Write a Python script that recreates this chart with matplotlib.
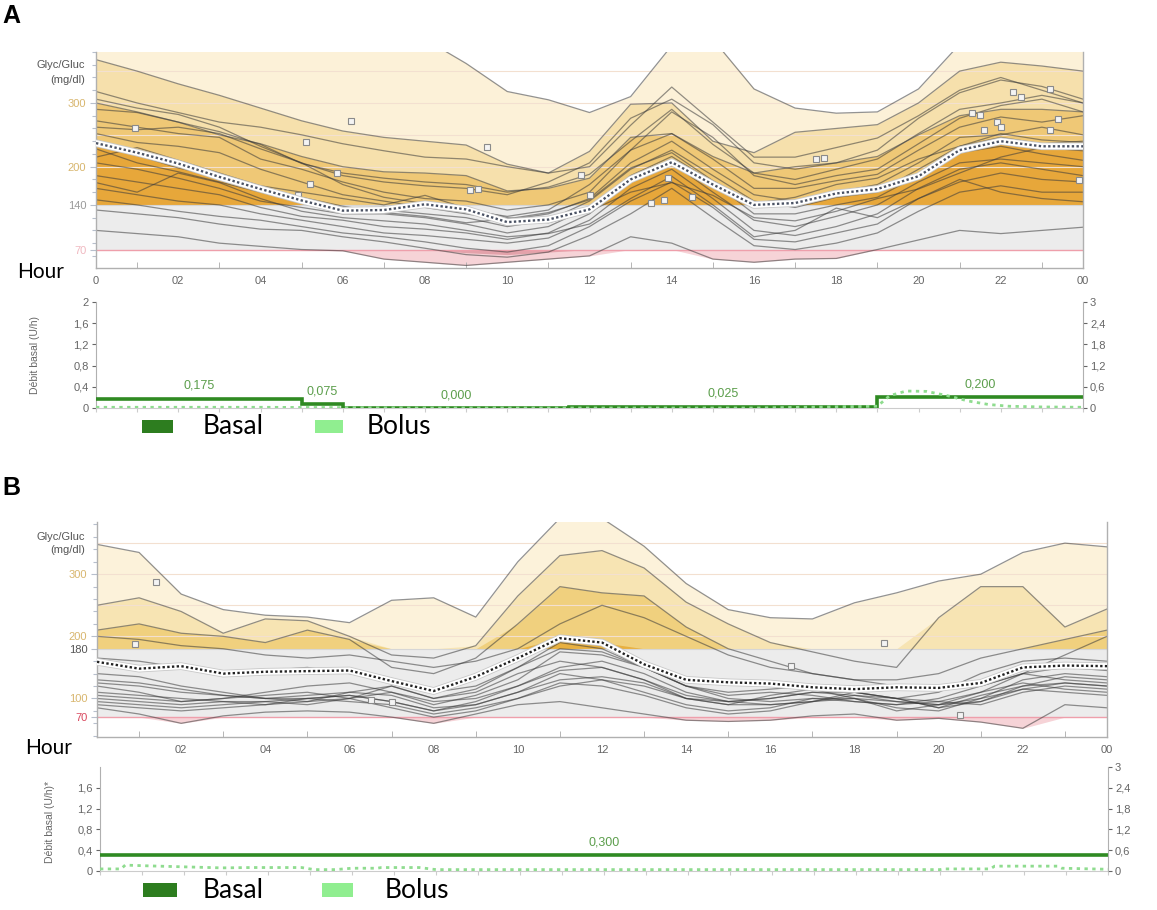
import matplotlib
matplotlib.use("Agg")
import matplotlib.pyplot as plt
import numpy as np
from matplotlib.patches import Rectangle
from matplotlib.ticker import FixedLocator, MultipleLocator, FuncFormatter

W, H = 1157, 910
HOURS = list(range(25))

# ---------------- panel A : glucose (mg/dl), hourly ----------------
a_max = [400, 395, 390, 392, 398, 400, 400, 400, 400, 362, 318, 305, 285, 310, 390, 400, 322, 292, 284, 286, 322, 392, 400, 400, 400]
a_p90 = [368, 350, 330, 312, 292, 272, 256, 246, 240, 234, 204, 190, 224, 298, 300, 240, 222, 254, 260, 266, 300, 350, 364, 358, 350]
a_p75 = [300, 286, 270, 250, 236, 216, 200, 192, 190, 186, 162, 166, 182, 246, 252, 216, 190, 200, 206, 216, 250, 280, 290, 290, 286]
a_median = [237, 222, 205, 184, 165, 147, 131, 132, 141, 133, 113, 117, 133, 180, 207, 172, 140, 143, 158, 165, 185, 226, 240, 232, 232]
a_p10 = [125, 115, 110, 100, 95, 90, 85, 80, 75, 65, 62, 66, 80, 105, 100, 85, 75, 75, 80, 90, 110, 130, 135, 135, 135]
a_min = [100, 95, 90, 80, 75, 70, 68, 55, 50, 45, 50, 55, 60, 90, 80, 55, 50, 55, 56, 70, 85, 100, 95, 100, 105]
a_traces = [
    [318, 300, 285, 270, 262, 250, 236, 225, 215, 212, 200, 190, 200, 265, 325, 270, 215, 215, 230, 245, 280, 320, 340, 320, 300],
    [290, 285, 270, 255, 235, 205, 190, 182, 176, 172, 160, 168, 188, 240, 290, 235, 190, 180, 196, 212, 252, 290, 300, 312, 300],
    [272, 262, 252, 246, 212, 196, 176, 160, 150, 146, 132, 140, 160, 226, 252, 212, 166, 166, 178, 188, 226, 262, 278, 270, 280],
    [252, 238, 232, 222, 196, 176, 156, 146, 136, 126, 116, 126, 150, 206, 240, 196, 156, 146, 160, 172, 206, 246, 250, 262, 250],
    [228, 206, 192, 176, 160, 146, 136, 132, 126, 120, 106, 116, 146, 196, 226, 186, 146, 136, 152, 160, 196, 232, 246, 236, 240],
    [206, 196, 182, 166, 146, 136, 126, 126, 120, 110, 96, 106, 136, 186, 216, 176, 126, 126, 140, 152, 186, 222, 232, 220, 210],
    [186, 176, 166, 156, 136, 122, 116, 106, 102, 96, 86, 96, 126, 176, 206, 160, 116, 106, 122, 140, 176, 206, 212, 206, 200],
    [166, 156, 146, 140, 126, 116, 106, 96, 92, 86, 80, 88, 116, 166, 196, 150, 100, 92, 106, 126, 166, 196, 206, 196, 186],
    [148, 140, 130, 122, 116, 106, 96, 90, 82, 72, 66, 76, 106, 146, 176, 136, 86, 82, 96, 110, 150, 176, 190, 180, 176],
    [132, 126, 120, 110, 102, 100, 90, 82, 72, 62, 58, 66, 92, 126, 166, 120, 76, 70, 80, 96, 130, 160, 170, 160, 160],
    [306, 292, 282, 262, 232, 206, 186, 176, 170, 166, 156, 176, 206, 276, 306, 266, 206, 196, 206, 226, 276, 316, 336, 326, 306],
    [262, 258, 262, 252, 228, 206, 172, 152, 142, 132, 122, 132, 172, 226, 286, 246, 186, 172, 186, 196, 236, 276, 296, 306, 286],
    [242, 218, 198, 184, 168, 152, 138, 128, 122, 112, 118, 128, 148, 198, 222, 178, 142, 152, 172, 182, 212, 232, 252, 242, 238],
    [215, 230, 210, 190, 170, 160, 150, 140, 155, 135, 120, 112, 130, 160, 175, 155, 120, 115, 130, 150, 165, 190, 215, 230, 225],
    [175, 160, 190, 175, 150, 130, 120, 115, 110, 100, 90, 95, 110, 150, 185, 140, 90, 100, 135, 120, 150, 180, 160, 150, 145],
]
a_mark_h = [0.95, 5.1, 6.2, 5.85, 5.2, 4.9, 9.5, 9.1, 9.3, 11.8, 12.0, 13.9, 13.5, 13.8, 14.5, 17.5, 17.7,
            21.3, 21.5, 21.9, 22.0, 21.6, 22.3, 22.5, 23.2, 23.4, 23.2, 23.9]
a_mark_v = [261, 239, 272, 190, 173, 155, 231, 163, 165, 187, 156, 182, 143, 148, 152, 212, 214,
            284, 281, 270, 262, 258, 317, 310, 322, 275, 258, 179]

# ---------------- panel B : glucose (mg/dl), hourly ----------------
b_max = [348, 335, 268, 243, 234, 231, 222, 258, 262, 231, 320, 390, 390, 345, 285, 243, 230, 228, 254, 270, 289, 300, 335, 350, 344]
b_p90 = [250, 262, 240, 205, 228, 225, 200, 170, 165, 185, 265, 330, 338, 310, 255, 220, 190, 175, 160, 150, 230, 280, 280, 215, 244]
b_p75 = [210, 220, 205, 200, 190, 210, 195, 150, 140, 165, 220, 280, 270, 265, 215, 180, 160, 140, 130, 130, 140, 165, 180, 195, 210]
b_median = [159, 148, 152, 140, 143, 144, 145, 128, 112, 135, 165, 197, 190, 155, 130, 126, 124, 118, 115, 118, 117, 125, 150, 153, 152]
b_min = [85, 75, 60, 72, 78, 80, 78, 70, 60, 75, 90, 95, 85, 75, 65, 63, 65, 72, 75, 65, 68, 62, 52, 90, 85]
b_traces = [
    [125, 120, 110, 105, 100, 100, 105, 95, 80, 95, 120, 150, 160, 140, 110, 95, 100, 110, 105, 95, 90, 110, 140, 150, 145],
    [110, 105, 100, 95, 95, 90, 100, 110, 90, 105, 130, 175, 170, 150, 120, 100, 95, 100, 100, 85, 80, 100, 130, 140, 135],
    [100, 95, 90, 95, 90, 95, 110, 120, 100, 110, 140, 160, 150, 130, 100, 90, 105, 115, 100, 80, 90, 95, 120, 135, 130],
    [130, 125, 115, 105, 100, 105, 110, 105, 85, 90, 110, 140, 130, 120, 100, 95, 90, 95, 110, 100, 85, 105, 120, 125, 120],
    [95, 90, 85, 90, 95, 100, 95, 90, 75, 85, 100, 120, 130, 110, 90, 80, 85, 100, 95, 90, 95, 110, 125, 115, 110],
    [140, 135, 120, 110, 100, 95, 100, 120, 100, 115, 150, 180, 175, 150, 120, 105, 110, 105, 95, 90, 100, 120, 140, 130, 125],
    [90, 85, 80, 85, 90, 100, 105, 95, 80, 90, 110, 130, 135, 125, 100, 90, 90, 95, 100, 95, 90, 100, 115, 110, 105],
    [120, 110, 95, 100, 105, 110, 100, 85, 70, 80, 100, 125, 120, 105, 85, 75, 80, 95, 105, 100, 95, 90, 110, 120, 115],
    [165, 160, 150, 140, 145, 150, 140, 130, 110, 120, 150, 190, 180, 150, 120, 110, 115, 120, 110, 100, 110, 140, 160, 165, 160],
    [105, 100, 95, 100, 110, 120, 125, 110, 95, 100, 120, 145, 150, 130, 105, 95, 100, 110, 110, 100, 85, 95, 115, 125, 120],
    [200, 195, 185, 180, 170, 165, 170, 160, 150, 160, 180, 220, 250, 230, 200, 170, 150, 140, 130, 120, 115, 120, 140, 170, 200],
]
b_mark_h = [1.4, 0.9, 6.5, 7.0, 16.5, 18.7, 20.5]
b_mark_v = [288, 187, 98, 94, 152, 190, 73]

# ---------------- basal / bolus (U/h) ----------------
a_basal_start = [0, 5, 6, 11.5, 19]
a_basal_rate = [0.175, 0.075, 0.0, 0.025, 0.200]
a_bolus_h = [0, 4, 8, 12, 16, 19.0, 19.3, 19.7, 20.2, 20.7, 21.2, 21.7, 22.2, 23, 24]
a_bolus_v = [0.02, 0.02, 0.0, 0.0, 0.0, 0.05, 0.35, 0.48, 0.47, 0.35, 0.2, 0.1, 0.05, 0.03, 0.02]

b_basal_start = [0]
b_basal_rate = [0.300]
b_bolus_h = [0, 0.5, 0.6, 1.1, 2.9, 3.6, 4.8, 5.1, 5.6, 6.0, 6.6, 6.7, 7.6, 8.0, 20.0, 20.1, 21.2, 21.3, 22.8, 22.9, 24]
b_bolus_v = [0.06, 0.06, 0.17, 0.15, 0.09, 0.1, 0.1, 0.04, 0.04, 0.08, 0.08, 0.1, 0.1, 0.04, 0.04, 0.06, 0.06, 0.14, 0.14, 0.08, 0.05]

TICK_FONT = "Liberation Sans"
BIG_FONT = "Lato"
GREEN = "#2f8a22"
LABEL_GREEN = "#5c9e4c"


def fig_axes(fig, left, right, top, bottom):
    return fig.add_axes([left / W, 1 - bottom / H, (right - left) / W, (bottom - top) / H])


def draw_glucose(ax, env_max, env_p90, env_p75, median, env_min, env_p10, traces,
                 mark_h, mark_v, target, ylim, ytick_vals, ytick_cols, colors, first_label, dot_col):
    h = np.array(HOURS, dtype=float)
    ax.set_xlim(0, 24)
    ax.set_ylim(*ylim)
    ax.axhspan(70, target, color="#ececec", zorder=0, lw=0)
    ax.fill_between(h, target, np.maximum(env_max, target), color=colors[0], lw=0, zorder=0.5)
    ax.fill_between(h, target, np.maximum(env_p90, target), color=colors[1], lw=0, zorder=0.6)
    ax.fill_between(h, target, np.maximum(env_p75, target), color=colors[2], lw=0, zorder=0.7)
    ax.fill_between(h, target, np.maximum(median, target), color=colors[3], lw=0, zorder=0.8)
    ax.fill_between(h, np.minimum(env_min, 70), 70, color="#f6d3d7", lw=0, zorder=0.8)
    if env_p10 is not None:
        ax.fill_between(h, np.minimum(env_p10, 70), 70, color="#e3a2aa", lw=0, zorder=0.9)
    for lvl in (200, 250, 300, 350):
        ax.axhline(lvl, color="#f3e0d0", lw=0.8, zorder=1)
    ax.axhline(target, color="#d6d6d6", lw=0.8, zorder=1)
    ax.axhline(70, color="#ee9fab", lw=1.0, zorder=1)

    for tr in traces:
        ax.plot(h, tr, color="#3a3a3a", lw=0.9, alpha=0.55, zorder=2)
    for env in (env_max, env_p90, env_p75, env_min):
        ax.plot(h, env, color="#3a3a3a", lw=0.9, alpha=0.55, zorder=2)
    ax.plot(mark_h, mark_v, ls="none", marker="s", ms=4, mfc="#f4f4f4", mec="#8a8a8a", mew=0.8, zorder=3)

    ax.plot(h, median, color="#c8c8c8", lw=5.5, solid_capstyle="round", zorder=4)
    ax.plot(h, median, color="white", lw=4.3, solid_capstyle="round", zorder=4.1)
    ax.plot(h, median, color=dot_col, lw=1.7, ls=(0, (1, 1)), zorder=4.2)

    ax.yaxis.set_major_locator(FixedLocator(ytick_vals))
    ax.yaxis.set_minor_locator(MultipleLocator(20))
    ax.set_yticklabels([str(v) for v in ytick_vals], fontsize=8, family=TICK_FONT)
    for lbl, col in zip(ax.get_yticklabels(), ytick_cols):
        lbl.set_color(col)
    ax.tick_params(axis="y", which="both", color="#b7bfcc", length=4, width=0.8, pad=3)
    ax.tick_params(axis="y", which="minor", length=3)

    ax.xaxis.set_major_locator(FixedLocator(range(0, 25, 2)))
    ax.xaxis.set_minor_locator(FixedLocator(range(1, 24, 2)))
    xl = [first_label] + ["%02d" % v for v in range(2, 24, 2)] + ["00"]
    ax.set_xticklabels(xl, fontsize=8, family=TICK_FONT, color="#666666")
    ax.tick_params(axis="x", which="major", length=0, pad=6)
    ax.tick_params(axis="x", which="minor", length=4, direction="in", color="#aaaaaa")

    ax.spines["top"].set_visible(False)
    for side in ("left", "right", "bottom"):
        ax.spines[side].set_color("#b0b0b0")
        ax.spines[side].set_linewidth(1.0)


def draw_basal(ax, starts, rates, bolus_h, bolus_v, left_ticks):
    ax.set_xlim(0, 24)
    ax.set_ylim(0, 2)
    xs = list(starts) + [24]
    ys = list(rates) + [rates[-1]]
    ax.step(xs, ys, where="post", color=GREEN, lw=2.6, zorder=3, solid_joinstyle="miter")
    for i, r in enumerate(rates):
        mid = (xs[i] + xs[i + 1]) / 2
        ax.annotate(("%.3f" % r).replace(".", ","), (mid, r), xytext=(0, 5), textcoords="offset points",
                    ha="center", va="bottom", fontsize=9, color=LABEL_GREEN, family=TICK_FONT)
    comma = FuncFormatter(lambda v, _: ("%g" % round(v, 2)).replace(".", ","))
    ax.yaxis.set_major_locator(FixedLocator(left_ticks))
    ax.yaxis.set_major_formatter(comma)
    ax.tick_params(axis="y", labelsize=8, colors="#666666", length=3, pad=2)
    for lbl in ax.get_yticklabels():
        lbl.set_family(TICK_FONT)
    ax.xaxis.set_major_locator(FixedLocator(range(0, 25)))
    ax.set_xticklabels([])
    ax.tick_params(axis="x", length=3, color="#cccccc")
    ax.spines["top"].set_visible(False)
    ax.spines["right"].set_visible(False)
    ax.spines["left"].set_color("#b0b0b0")
    ax.spines["bottom"].set_color("#cccccc")

    ax2 = ax.twinx()
    ax2.set_ylim(0, 3)
    ax2.plot(bolus_h, bolus_v, color="#8fdc8f", lw=2.0, ls=(0, (1.2, 1.6)), zorder=2)
    ax2.yaxis.set_major_locator(FixedLocator([0, 0.6, 1.2, 1.8, 2.4, 3]))
    ax2.yaxis.set_major_formatter(comma)
    ax2.tick_params(axis="y", labelsize=8, colors="#666666", length=3, pad=2)
    for lbl in ax2.get_yticklabels():
        lbl.set_family(TICK_FONT)
    for side in ("top", "left", "bottom"):
        ax2.spines[side].set_visible(False)
    ax2.spines["right"].set_color("#b0b0b0")


def legend(fig, y_top, y_bot, basal_x, basal_txt, bolus_x, bolus_txt):
    for (x0, x1), col in ((basal_x, "#2d7d1f"), (bolus_x, "#90ee90")):
        fig.patches.append(Rectangle((x0 / W, 1 - y_bot / H), (x1 - x0) / W, (y_bot - y_top) / H,
                                     transform=fig.transFigure, color=col, lw=0))
    yc = 1 - (y_top + y_bot) / 2 / H
    fig.text(basal_txt / W, yc, "Basal", fontsize=19, family=BIG_FONT, va="center", ha="left")
    fig.text(bolus_txt / W, yc, "Bolus", fontsize=19, family=BIG_FONT, va="center", ha="left")


fig = plt.figure(figsize=(W / 100, H / 100), dpi=100)

# ---- A ----
ax_a = fig_axes(fig, 96, 1083, 52, 268)
draw_glucose(ax_a, a_max, a_p90, a_p75, a_median, a_min, a_p10, a_traces, a_mark_h, a_mark_v,
             target=140, ylim=(41, 380), ytick_vals=[70, 140, 200, 300],
             ytick_cols=["#f0b8c0", "#9a9a9a", "#d8b66e", "#d8b66e"],
             colors=["#fcf1d8", "#f6e0ac", "#efc876", "#e7a73a"], first_label="0", dot_col="#4a5264")
ax_ab = fig_axes(fig, 96, 1083, 302, 408)
draw_basal(ax_ab, a_basal_start, a_basal_rate, a_bolus_h, a_bolus_v, [0, 0.4, 0.8, 1.2, 1.6, 2])

# ---- B ----
ax_b = fig_axes(fig, 97, 1107, 522, 737)
draw_glucose(ax_b, b_max, b_p90, b_p75, b_median, b_min, None, b_traces, b_mark_h, b_mark_v,
             target=180, ylim=(38, 384), ytick_vals=[70, 100, 180, 200, 300],
             ytick_cols=["#d9485e", "#d8b66e", "#555555", "#d8b66e", "#d8b66e"],
             colors=["#fcf2da", "#f7e4b3", "#f0d07e", "#e8b040"], first_label="", dot_col="#222222")
ax_bb = fig_axes(fig, 100, 1108, 767, 871)
draw_basal(ax_bb, b_basal_start, b_basal_rate, b_bolus_h, b_bolus_v, [0, 0.4, 0.8, 1.2, 1.6])

# ---- labels ----
fig.text(2 / W, 1 - 16 / H, "A", fontsize=18, fontweight="bold", family=TICK_FONT, va="center")
fig.text(2 / W, 1 - 488 / H, "B", fontsize=18, fontweight="bold", family=TICK_FONT, va="center")
fig.text(17 / W, 1 - 272 / H, "Hour", fontsize=15, family=BIG_FONT, va="center")
fig.text(25 / W, 1 - 748 / H, "Hour", fontsize=15, family=BIG_FONT, va="center")
for yy, txt_y in ((65, 80), (537, 550)):
    fig.text(85 / W, 1 - yy / H, "Glyc/Gluc", fontsize=8, family=TICK_FONT, color="#555555", ha="right", va="center")
    fig.text(85 / W, 1 - txt_y / H, "(mg/dl)", fontsize=8, family=TICK_FONT, color="#555555", ha="right", va="center")
fig.text(35 / W, 1 - 355 / H, "Débit basal (U/h)", fontsize=7.5, family=TICK_FONT, color="#666666",
         rotation=90, ha="center", va="center")
fig.text(50 / W, 1 - 822 / H, "Débit basal (U/h)*", fontsize=7.5, family=TICK_FONT, color="#666666",
         rotation=90, ha="center", va="center")

legend(fig, 420, 433, (142, 173), 203, (315, 343), 367)
legend(fig, 883, 897, (143, 177), 203, (322, 353), 385)

fig.savefig("out.png", dpi=100)
